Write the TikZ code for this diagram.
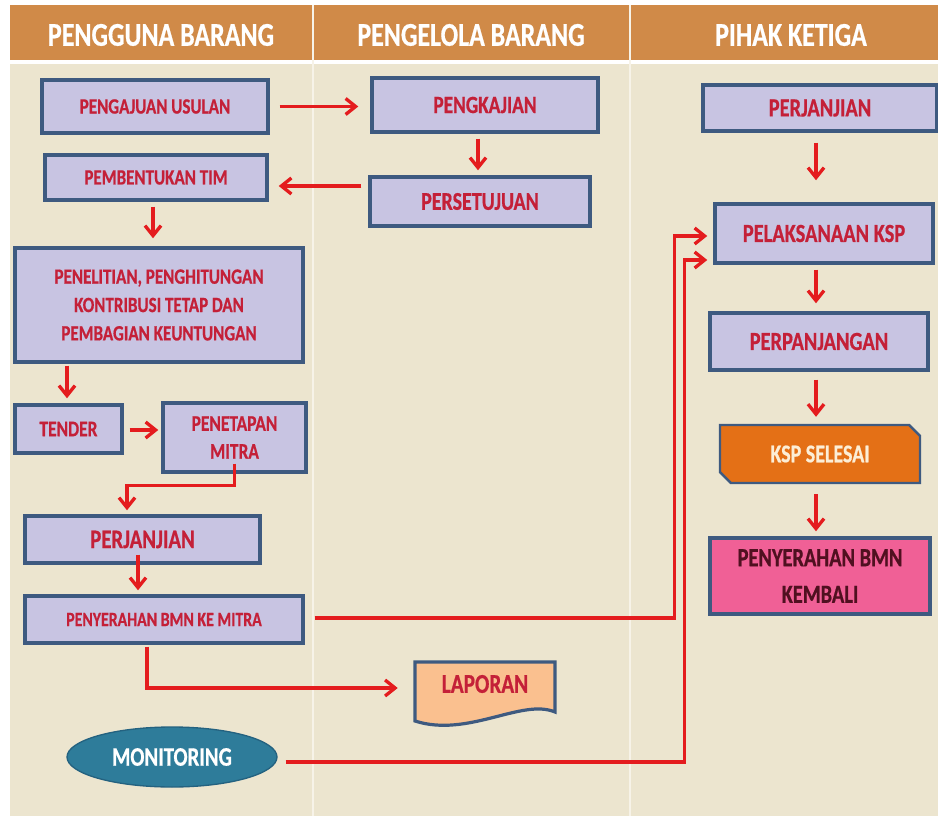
\documentclass[tikz,border=0pt]{standalone}
\usepackage{fontspec}
\setmainfont[FakeStretch=0.78,FakeBold=0.6]{Carlito}
\usetikzlibrary{arrows.meta,shapes.geometric,shapes.misc,calc}

\definecolor{hdrorange}{RGB}{208,138,72}
\definecolor{cream}{RGB}{236,229,207}
\definecolor{laneline}{RGB}{247,243,232}
\definecolor{boxfill}{RGB}{200,196,226}
\definecolor{boxline}{RGB}{62,90,128}
\definecolor{txtred}{RGB}{196,32,56}
\definecolor{arrred}{RGB}{228,28,30}
\definecolor{kspfill}{RGB}{228,112,22}
\definecolor{pinkfill}{RGB}{240,96,150}
\definecolor{maroon}{RGB}{80,16,32}
\definecolor{lapfill}{RGB}{250,192,143}
\definecolor{monfill}{RGB}{46,124,154}
\definecolor{monline}{RGB}{36,98,128}

% font size given in picture units (1 unit = 0.75pt), scaled for the condensed face
\newcommand\fpx[2][1.2]{\fontsize{\fpeval{#2*0.75*1.09}pt}{\fpeval{#2*0.75*1.09*#1}pt}\selectfont}

\begin{document}
\begin{tikzpicture}[x=0.75pt,y=-0.75pt,
  box/.style={rectangle, draw=boxline, line width=2.6pt, fill=boxfill,
    text=txtred, align=center, inner sep=0pt},
  wh/.style 2 args={minimum width=#1*0.75pt, minimum height=#2*0.75pt},
  arr/.style={draw=arrred, line width=2.5pt,
    -{Straight Barb[length=7.5pt,width=12pt]}},
  lane/.style={draw=laneline, line width=2pt},
  head/.style={text=white, font={\bfseries\fpx{30.5}}}]

\useasboundingbox (0,0) rectangle (938,816);

% lanes and header band
\fill[white] (0,0) rectangle (938,816);
\fill[cream] (10,64) rectangle (938,816);
\fill[hdrorange] (10,5) rectangle (938,60);
\draw[lane] (313,5) -- (313,816);
\draw[lane] (630,5) -- (630,816);

\node[head] (h1) at (161,35) {PENGGUNA BARANG};
\node[head] (h2) at (471,35) {PENGELOLA BARANG};
\node[head] (h3) at (791,35) {PIHAK KETIGA};

% Pengguna Barang column
\node[box, wh={226}{53}, font={\bfseries\fpx{20}}] (usul) at (155,106.5) {PENGAJUAN USULAN};
\node[box, wh={222}{45}, font={\bfseries\fpx{20}}] (tim) at (156,177.5) {PEMBENTUKAN TIM};
\node[box, wh={288}{114}, font={\bfseries\fpx[1.3]{20}}] (teliti) at (159,305)
  {PENELITIAN, PENGHITUNGAN\\KONTRIBUSI TETAP DAN\\PEMBAGIAN KEUNTUNGAN};
\node[box, wh={107}{48}, font={\bfseries\fpx{20.5}}] (tender) at (68.5,429) {TENDER};
\node[box, wh={143}{69}, font={\bfseries\fpx[1.25]{20.5}}] (tetap) at (234.5,437.5) {PENETAPAN\\MITRA};
\node[box, wh={235}{47}, font={\bfseries\fpx{24.5}}] (janjiL) at (142.5,539.5) {PERJANJIAN};
\node[box, wh={278}{47}, font={\bfseries\fpx{18.6}}] (serah) at (164,619.5) {PENYERAHAN BMN KE MITRA};

% Pengelola Barang column
\node[box, wh={226}{54}, font={\bfseries\fpx{22.7}}] (kaji) at (485,105) {PENGKAJIAN};
\node[box, wh={220}{49}, font={\bfseries\fpx{23.5}}] (setuju) at (480,201.5) {PERSETUJUAN};

% report document with wavy lower edge
\filldraw[fill=lapfill, draw=boxline, line width=2.4pt]
  (415,662) -- (555,662) -- (555,712)
  .. controls (522,698) and (468,738) .. (415,721) -- cycle;
\node[text=txtred, font={\bfseries\fpx{25}}, wh={140}{44}, inner sep=0pt] (lapor) at (485,684) {LAPORAN};

\node[ellipse, fill=monfill, draw=monline, line width=1pt, wh={210}{60}, inner sep=0pt,
  text=white, font={\bfseries\fpx{24.5}}] (mon) at (172,757) {MONITORING};

% Pihak Ketiga column
\node[box, wh={234}{46}, font={\bfseries\fpx{24}}] (janjiR) at (820,108) {PERJANJIAN};
\node[box, wh={218}{59}, font={\bfseries\fpx{24}}] (laksana) at (824,233.5) {PELAKSANAAN KSP};
\node[box, wh={218}{57}, font={\bfseries\fpx{24}}] (panjang) at (819,341.5) {PERPANJANGAN};
\node[chamfered rectangle, chamfered rectangle corners={north east,south west},
  chamfered rectangle xsep=5pt, draw=boxline, line width=1.8pt, fill=kspfill,
  wh={200}{58}, inner sep=0pt, text={rgb,255:red,252;green,238;blue,214},
  font={\bfseries\fpx{23.5}}] (selesai) at (820,454) {KSP SELESAI};
\node[box, fill=pinkfill, text=maroon, wh={220}{76}, font={\bfseries\fpx[1.4]{24}}] (kembali) at (820,576)
  {PENYERAHAN BMN\\KEMBALI};

% connectors
\draw[arr] ($(usul.east)+(10,0)$) -- ($(usul.east -| kaji.west)+(-12,0)$);
\draw[arr] ($(kaji.south)+(-7,5)$) -- ($(kaji.south |- setuju.north)+(-7,-5)$);
\draw[arr] ($(setuju.west |- 0,186)+(-7,0)$) -- ($(tim.east |- 0,186)+(10,0)$);
\draw[arr] ($(tim.south)+(-3,5)$) -- ($(tim.south |- teliti.north)+(-3,-8)$);
\draw[arr] ($(tender.north |- teliti.south)+(-1.5,2)$) -- ($(tender.north)+(-1.5,-5)$);
\draw[arr] ($(tender.east)+(6,1)$) -- ($(tender.east -| tetap.west)+(-3,1)$);
\draw[arr] ($(tetap.south)+(0,-10)$) |- ($(janjiL.north)+(-15.5,-29)$) -- ($(janjiL.north)+(-15.5,-4)$);
\draw[arr] ($(janjiL.south)+(-4.5,-10)$) -- ($(janjiL.south |- serah.north)+(-4.5,-4)$);
\draw[arr] ($(serah.east)+(10,-1.5)$) -| ($(laksana.west)+(-39,2.5)$) -- ($(laksana.west)+(-6,2.5)$);
\draw[arr] ($(mon.east)+(8,5)$) -| ($(laksana.west)+(-29,26.5)$) -- ($(laksana.west)+(-6,26.5)$);
\draw[arr] ($(serah.south)+(-17,2)$) |- ($(lapor.west |- 0,688)+(-17,0)$);

\draw[arr] ($(janjiR.south)+(-4,10)$) -- ($(janjiR.south |- laksana.north)+(-4,-22)$);
\draw[arr] ($(laksana.south)+(-8,5)$) -- ($(laksana.south |- panjang.north)+(-8,-8)$);
\draw[arr] ($(panjang.south)+(-3,8)$) -- ($(panjang.south |- selesai.north)+(-3,-7)$);
\draw[arr] ($(selesai.south)+(-4,10)$) -- ($(selesai.south |- kembali.north)+(-4,-5)$);
\end{tikzpicture}
\end{document}
